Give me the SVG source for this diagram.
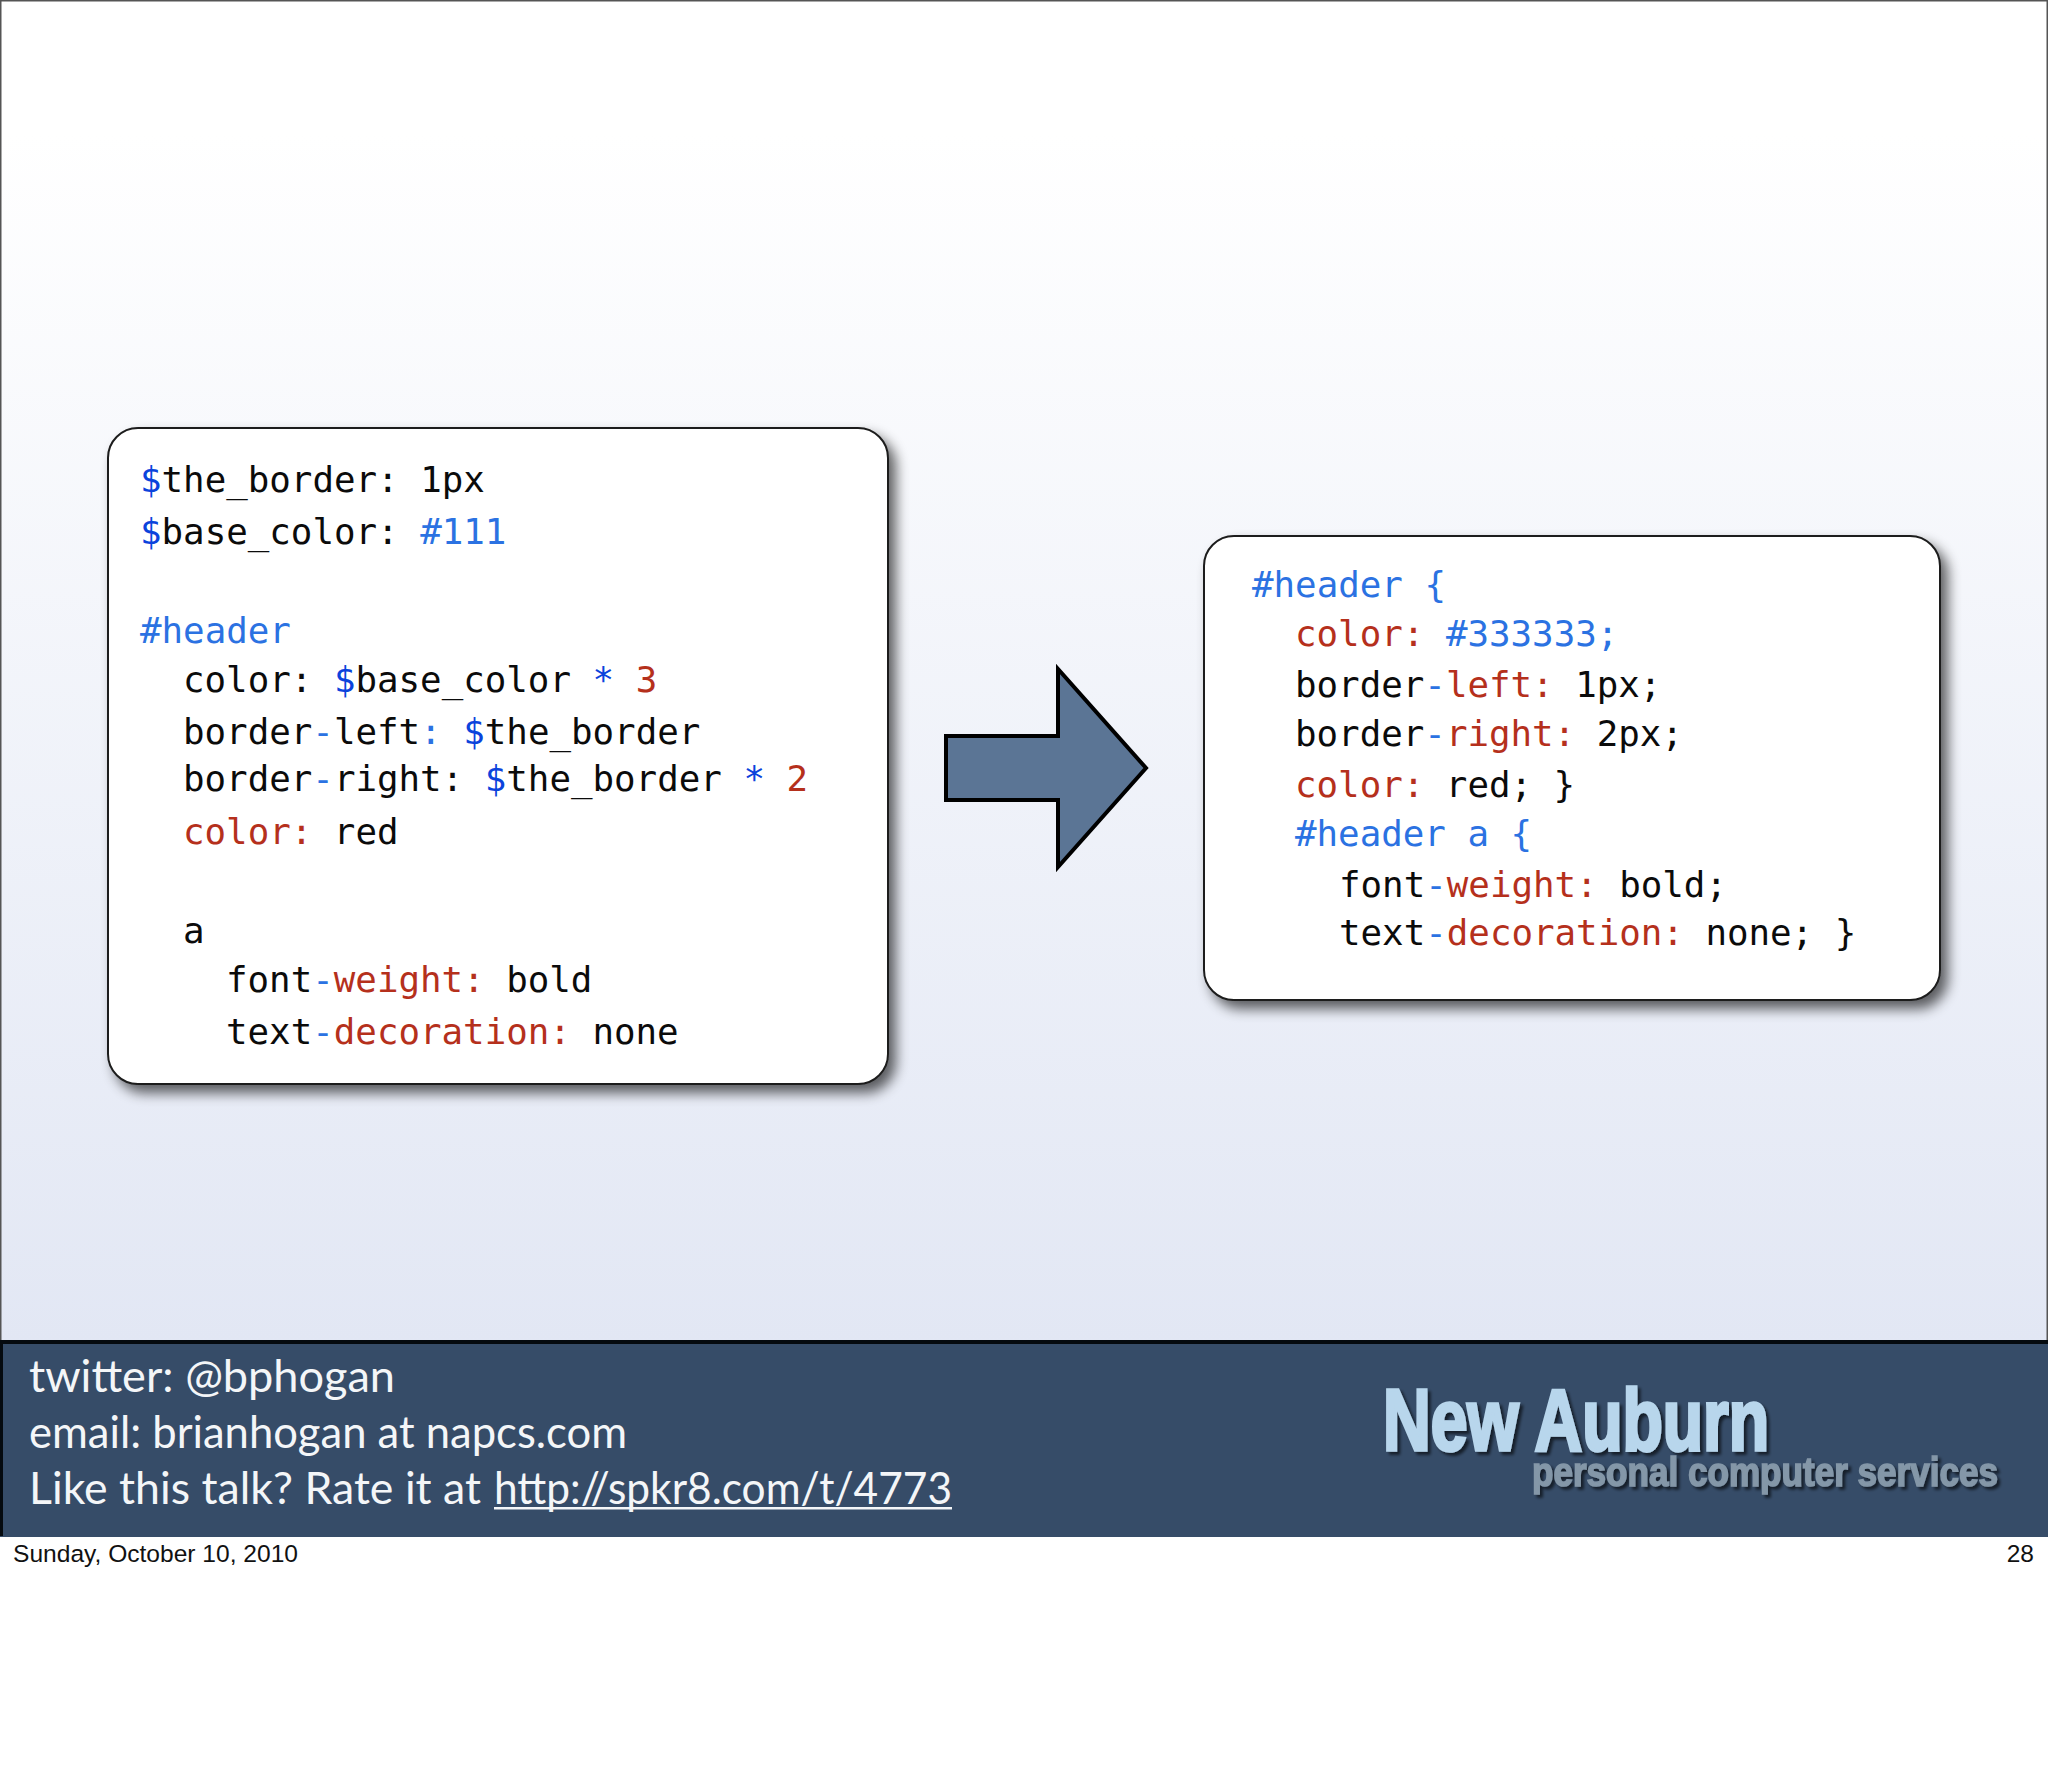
<svg xmlns="http://www.w3.org/2000/svg" width="2048" height="1784" viewBox="0 0 2048 1784">
<defs>
<linearGradient id="bg" x1="0" y1="0" x2="0" y2="1"><stop offset="0" stop-color="#ffffff"/><stop offset="0.1" stop-color="#ffffff"/><stop offset="1" stop-color="#e2e7f4"/></linearGradient>
<filter id="sh" x="-5%" y="-5%" width="115%" height="115%"><feGaussianBlur in="SourceAlpha" stdDeviation="6.5"/><feOffset dx="7" dy="8"/><feComponentTransfer><feFuncA type="linear" slope="0.62"/></feComponentTransfer><feMerge><feMergeNode/><feMergeNode in="SourceGraphic"/></feMerge></filter>
<filter id="ts" x="-5%" y="-10%" width="110%" height="130%"><feGaussianBlur in="SourceAlpha" stdDeviation="1.5"/><feOffset dx="3" dy="3"/><feComponentTransfer><feFuncA type="linear" slope="0.6"/></feComponentTransfer><feMerge><feMergeNode/><feMergeNode in="SourceGraphic"/></feMerge></filter>
</defs>
<style>
.box{fill:#fff;stroke:#1c1c1c;stroke-width:2}
.code{font-family:"DejaVu Sans Mono","Liberation Mono",monospace;font-size:35.8px;fill:#0b0b0b;white-space:pre}
.d{fill:#0b43dc}.l{fill:#2b72e2}.r{fill:#b5301c}
.foot{font-family:Lato,"Open Sans",sans-serif;font-size:45px;fill:#f4f6f8}
.meta{font-family:"Liberation Sans",Arial,sans-serif;font-size:24.5px;fill:#111}
.logo{font-family:"Liberation Sans",Arial,sans-serif;font-weight:bold}
</style>
<rect width="2048" height="1784" fill="#fff"/>
<g id="slide">
<rect x="0" y="0" width="2048" height="1342" fill="url(#bg)"/>
<rect x="0" y="0" width="2048" height="1.5" fill="#555"/>
<rect x="0" y="0" width="1.5" height="1342" fill="#555"/>
<rect x="2046.5" y="0" width="1.5" height="1342" fill="#555"/>
</g>
<g id="node-scss">
<rect class="box" x="108" y="428" width="780" height="656" rx="30" filter="url(#sh)"/>
<text class="code" xml:space="preserve" x="140" y="491.5"><tspan class="d">$</tspan>the_border: 1px</text>
<text class="code" xml:space="preserve" x="140" y="543.5"><tspan class="d">$</tspan>base_color: <tspan class="l">#111</tspan></text>
<text class="code l" xml:space="preserve" x="140" y="643">#header</text>
<text class="code" xml:space="preserve" x="183" y="691.5">color: <tspan class="d">$</tspan>base_color <tspan class="d">*</tspan> <tspan class="r">3</tspan></text>
<text class="code" xml:space="preserve" x="183" y="743.5">border<tspan class="l">-</tspan>left<tspan class="l">:</tspan> <tspan class="d">$</tspan>the_border</text>
<text class="code" xml:space="preserve" x="183" y="791">border<tspan class="l">-</tspan>right: <tspan class="d">$</tspan>the_border <tspan class="d">*</tspan> <tspan class="r">2</tspan></text>
<text class="code" xml:space="preserve" x="183" y="843.5"><tspan class="r">color:</tspan> red</text>
<text class="code" xml:space="preserve" x="183" y="943">a</text>
<text class="code" xml:space="preserve" x="226" y="992">font<tspan class="l">-</tspan><tspan class="r">weight:</tspan> bold</text>
<text class="code" xml:space="preserve" x="226" y="1043.5">text<tspan class="l">-</tspan><tspan class="r">decoration:</tspan> none</text>
</g>
<g id="node-css">
<rect class="box" x="1204" y="536" width="736" height="464" rx="30" filter="url(#sh)"/>
<text class="code l" xml:space="preserve" x="1252" y="597">#header {</text>
<text class="code" xml:space="preserve" x="1295" y="645.5"><tspan class="r">color:</tspan> <tspan class="l">#333333;</tspan></text>
<text class="code" xml:space="preserve" x="1295" y="697">border<tspan class="l">-</tspan><tspan class="r">left:</tspan> 1px;</text>
<text class="code" xml:space="preserve" x="1295" y="745.5">border<tspan class="l">-</tspan><tspan class="r">right:</tspan> 2px;</text>
<text class="code" xml:space="preserve" x="1295" y="797"><tspan class="r">color:</tspan> red; }</text>
<text class="code l" xml:space="preserve" x="1295" y="845.5">#header a {</text>
<text class="code" xml:space="preserve" x="1339" y="897">font<tspan class="l">-</tspan><tspan class="r">weight:</tspan> bold;</text>
<text class="code" xml:space="preserve" x="1339" y="945">text<tspan class="l">-</tspan><tspan class="r">decoration:</tspan> none; }</text>
</g>
<g id="connectors">
<polygon points="946,736 1058,736 1058,669 1146,768 1058,867 1058,800 946,800" fill="#5b7595" stroke="#000" stroke-width="4"/>
</g>
<g id="footer-bar">
<rect x="0" y="1340" width="2048" height="197" fill="#364c68"/>
<rect x="0" y="1340" width="2048" height="4" fill="#050a0f"/>
<rect x="0" y="1340" width="3" height="196" fill="#050a0f"/>
<text class="foot" x="29" y="1392" textLength="366" lengthAdjust="spacingAndGlyphs">twitter: @bphogan</text>
<text class="foot" x="29" y="1448" textLength="598" lengthAdjust="spacingAndGlyphs">email: brianhogan at napcs.com</text>
<text class="foot" x="29" y="1504" textLength="452" lengthAdjust="spacingAndGlyphs">Like this talk? Rate it at</text>
<text class="foot" x="494" y="1504" textLength="458" lengthAdjust="spacingAndGlyphs">http://spkr8.com/t/4773</text>
<rect x="494" y="1507" width="458" height="2.5" fill="#f4f6f8"/>
</g>
<g id="logo" filter="url(#ts)">
<text class="logo" x="1383" y="1450" font-size="88" fill="#b8d6ec" stroke="#b8d6ec" stroke-width="3.5" textLength="386" lengthAdjust="spacingAndGlyphs">New Auburn</text>
<text class="logo" x="1532" y="1486" font-size="40" fill="#8497a8" stroke="#8497a8" stroke-width="1.5" textLength="466" lengthAdjust="spacingAndGlyphs">personal computer services</text>
</g>
<g id="meta">
<text class="meta" x="13" y="1562" textLength="285" lengthAdjust="spacingAndGlyphs">Sunday, October 10, 2010</text>
<text class="meta" x="2034" y="1562" text-anchor="end">28</text>
</g>
</svg>
